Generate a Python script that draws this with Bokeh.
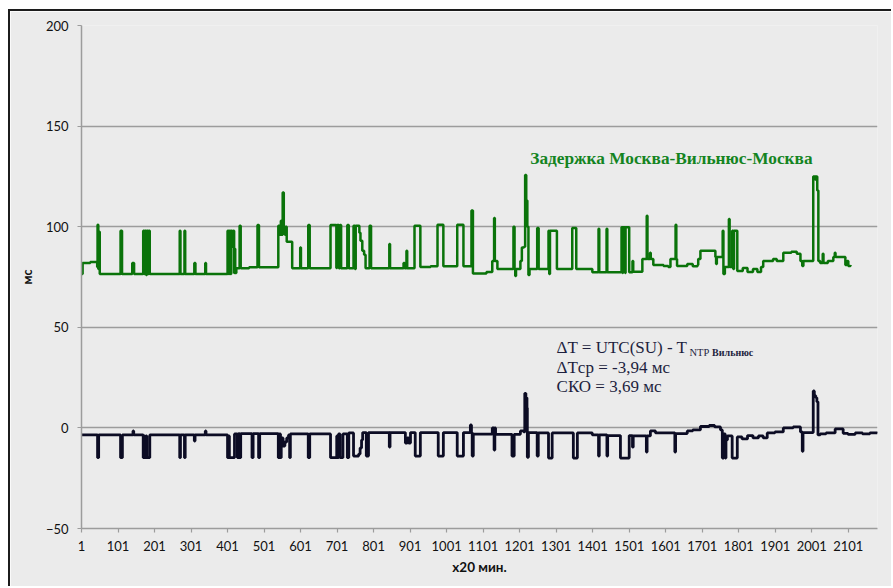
from bokeh.plotting import figure
from bokeh.models import FixedTicker, Label, Range1d
from bokeh.embed import file_html
from bokeh.resources import INLINE

# Round-trip delay Moscow - Vilnius - Moscow, ms.
# Step points: value holds from this sample index until the next one.
delay_idx = [
    1, 4, 25, 44, 45, 47, 48, 51,
    108, 112, 140, 145,
    170, 173, 175, 178, 180, 183, 185, 188,
    270, 272, 283, 285, 310, 313, 340, 342,
    401, 404, 406, 409, 411, 414, 417, 419, 420, 422,
    425, 434, 437, 460, 483, 487,
    540, 544, 547, 550, 552, 555, 558, 560, 563, 578,
    600, 602, 622, 626,
    683, 699, 701, 706, 709, 712, 729, 733,
    746, 750, 752, 762, 765, 770, 775, 779, 790, 794,
    844, 846, 883, 886, 891, 893, 913, 929, 957,
    976, 992, 1030, 1047, 1069, 1073,
    1110, 1126, 1131, 1133, 1140,
    1184, 1187, 1189, 1191, 1203, 1207, 1213, 1216, 1219, 1222, 1225, 1228,
    1249, 1253, 1280, 1282, 1284, 1303, 1345, 1356, 1400,
    1417, 1419, 1439, 1441,
    1480, 1483, 1484, 1490, 1491, 1501, 1510, 1512,
    1537, 1549, 1551, 1558, 1560, 1567, 1595, 1608, 1614, 1628, 1630, 1632,
    1660, 1675, 1688, 1690, 1696, 1737, 1739, 1741,
    1757, 1759, 1763, 1774, 1776, 1783, 1786, 1788, 1797,
    1812, 1825, 1840, 1852, 1862, 1868, 1895, 1905, 1923, 1945, 1960,
    1970, 1975, 1978, 2005, 2010, 2012, 2016, 2019, 2024, 2031, 2033,
    2045, 2060, 2064, 2066, 2093, 2098, 2101, 2107,
]
delay_ms = [
    76.5, 82, 82.5, 80, 101, 79, 97.5, 76.5,
    98, 76.5, 82, 76.5,
    98, 76.5, 98, 76, 98, 76.5, 98, 76.5,
    98, 76.5, 98, 76.5, 82, 76.5, 82, 76.5,
    98, 76.5, 98, 76.5, 98, 90, 98, 77, 89, 77,
    79.3, 100.5, 79.3, 79.8, 100.8, 79.8,
    100.5, 96, 103, 96, 117, 100, 96, 100, 92.5, 79.3,
    89.7, 79.3, 100.8, 79.3,
    100.8, 79.5, 100.8, 79.3, 100.8, 79.3, 100.8, 79.3,
    100.5, 79, 100.5, 97, 93, 88, 86, 79.4, 100.5, 79.4,
    91.4, 79.4, 82, 79.4, 88, 79.4, 100.5, 80, 80.3,
    101, 80.3, 101, 80.3, 108, 76.8,
    77.5, 83, 104.3, 83, 79,
    100, 79, 75.5, 79, 83, 89.7, 90, 125.7, 113, 100, 76, 79,
    99.3, 79, 98, 76.5, 98, 79, 99.3, 79, 77.3,
    99, 77.3, 99, 77.3,
    99.7, 77, 99.7, 77, 99.7, 77.3, 83, 77.6,
    84, 105.5, 84, 87, 84, 81, 80.5, 80, 84, 101, 84, 80.5,
    81.5, 80.3, 81, 84, 88, 85, 81.5, 85,
    98, 76.5, 80, 103.8, 80, 98, 79, 98, 78,
    79.5, 77.5, 79, 77.5, 80, 83, 84, 83, 87, 87.5, 86.5,
    83, 80.5, 83, 125, 123.5, 125, 118, 83, 82, 86.5, 82,
    83, 85, 87, 85, 81, 83, 80.5, 81,
]

# Clock offset dT = UTC(SU) - T_NTP(Vilnius), ms.
offset_idx = [
    1, 45, 48, 108, 113, 142, 144,
    170, 173, 175, 178, 180, 188,
    270, 272, 283, 285, 310, 312, 340, 342,
    401, 404, 406, 420, 428, 431, 434, 437,
    468, 471, 486, 489,
    540, 543, 546, 548, 553, 558, 563, 568, 571, 573,
    622, 626, 683, 700, 701, 705, 709, 717,
    729, 733, 746, 760, 764, 768, 771, 781, 787,
    844, 846, 888, 893, 897, 902, 915, 929,
    978, 992, 1030, 1047, 1066, 1069, 1071, 1074,
    1126, 1131, 1133, 1135, 1180, 1186,
    1203, 1212, 1215, 1218, 1221, 1222, 1225,
    1249, 1252, 1280, 1290, 1348, 1359, 1400,
    1417, 1419, 1440, 1442, 1477, 1501, 1510, 1512,
    1548, 1550, 1559, 1573, 1626, 1628, 1660, 1675, 1696, 1720, 1735, 1751,
    1756, 1760, 1764, 1766, 1770, 1783, 1797,
    1810, 1825, 1840, 1855, 1868, 1879, 1900, 1923, 1950, 1970,
    1975, 1977, 2005, 2008, 2012, 2015, 2018, 2024, 2040, 2065, 2087,
    2100, 2120, 2140, 2160, 2181,
]
offset_ms = [
    -3.5, -14.8, -3.5, -14.8, -3.5, -1.5, -3.5,
    -14.8, -4, -14.8, -4, -14.8, -3.5,
    -14.8, -3.5, -14.8, -3.5, -6.5, -3.5, -1.5, -3.5,
    -14.8, -4, -14.8, -3, -14.8, -2.8, -14.8, -2.8,
    -14.8, -2.8, -14.8, -2.8,
    -14.8, -3, -14.8, -5, -9, -7, -5, -3.5, -14.8, -3,
    -14.8, -3, -14.8, -4, -14.8, -3, -14.8, -3,
    -14.8, -2.5, -14, -13, -10, -6, -2.3, -14, -2.3,
    -9.5, -2.3, -7.5, -5, -7.5, -2.3, -14, -2.3,
    -14, -2.3, -14, -2.3, 1.5, -2.3, -14, -3.1,
    0, -11, 0, -3.2, -14, -3.2,
    -1.5, -2, 17.2, 15, 10, -14.6, -2.3,
    -14, -2.5, -15, -2.5, -15, -2.5, -3.5,
    -14, -3.5, -14, -3.8, -15, -3.8, -9.6, -4,
    -12, -4, -1.5, -2.5, -12, -2.8, -1.5, -1, 0.7, 1.2, 0.5, -1,
    -15, -3, -15, -6, -4, -15, -4.5,
    -5.5, -3.8, -5, -4, -5, -2.5, -2, 0, 0.5, -2,
    -11.6, -2.3, 18.4, 16, 15, 13, -3.5, -3, -2.5, -0.5, -2.7,
    -3.2, -2.5, -3, -2.5, -2.7,
]

x_ticks = list(range(1, 2102, 100))
y_ticks = [-50, 0, 50, 100, 150, 200]

title_text = "Задержка Москва-Вильнюс-Москва"
stats_lines = ["ΔT = UTC(SU) - T", "ΔTср = -3,94 мс", "СКО = 3,69 мс"]
sub_main = "NTP"
sub_place = "Вильнюс"

GRID = "#9c9c9c"
BG = "#ebebeb"
GREEN = "#0a730a"
NAVY = "#0c0c24"
INK = "#1e1f3e"

p = figure(
    width=883, height=577,
    x_range=Range1d(1, 2181), y_range=Range1d(-50, 200),
    output_backend="svg", toolbar_location=None,
    min_border_left=71, min_border_right=16, min_border_top=14, min_border_bottom=60,
    background_fill_color=BG, border_fill_color=BG,
)
p.margin = (9, 0, 0, 8)
p.styles = {"border-top": "2px solid #1c1c1c", "border-left": "2px solid #1c1c1c"}
p.outline_line_color = None

p.xgrid.grid_line_color = None
p.ygrid.grid_line_color = GRID
p.ygrid.grid_line_width = 1.5

p.xaxis.ticker = FixedTicker(ticks=x_ticks)
p.yaxis.ticker = FixedTicker(ticks=y_ticks)
for ax in (p.xaxis[0], p.yaxis[0]):
    ax.axis_line_color = GRID
    ax.axis_line_width = 1.5
    ax.major_tick_line_color = GRID
    ax.major_tick_line_width = 1.2
    ax.major_tick_in = 0
    ax.major_tick_out = 4
    ax.minor_tick_line_color = None
    ax.major_label_text_font = "Lato"
    ax.major_label_text_font_size = "13px"
    ax.major_label_text_color = "#111111"
    ax.axis_label_text_font = "Lato"
    ax.axis_label_text_font_style = "bold"
    ax.axis_label_text_color = "#111111"

p.xaxis.axis_label_text_font_size = "13.5px"
p.yaxis.axis_label_text_font_size = "12.5px"
p.xaxis.major_label_standoff = 8
p.yaxis.major_label_standoff = 9
p.xaxis.axis_label = "x20 мин."
p.xaxis.axis_label_standoff = 5
p.yaxis.axis_label = "мс"
p.yaxis.axis_label_standoff = 8

p.step(delay_idx, delay_ms, mode="after", line_color=GREEN, line_width=2.5)
p.step(offset_idx, offset_ms, mode="after", line_color=NAVY, line_width=2.8)

p.add_layout(Label(x=1230, y=133.8, text=title_text, text_font="Liberation Serif",
                   text_font_style="bold", text_font_size="17.3px", text_color="#14841f",
                   text_baseline="middle"))

stats_y = [39.8, 29.9, 20.4]
for txt, yy in zip(stats_lines, stats_y):
    p.add_layout(Label(x=1302, y=yy, text=txt, text_font="Liberation Serif",
                       text_font_size="17px", text_color=INK, text_baseline="middle"))
p.add_layout(Label(x=1666, y=37.3, text=sub_main, text_font="Liberation Serif",
                   text_font_size="10.5px", text_color=INK, text_baseline="middle"))
p.add_layout(Label(x=1728, y=37.3, text=sub_place, text_font="Liberation Serif",
                   text_font_style="bold", text_font_size="10px", text_color=INK,
                   text_baseline="middle"))

open("out.html", "w").write(file_html(p, INLINE))
